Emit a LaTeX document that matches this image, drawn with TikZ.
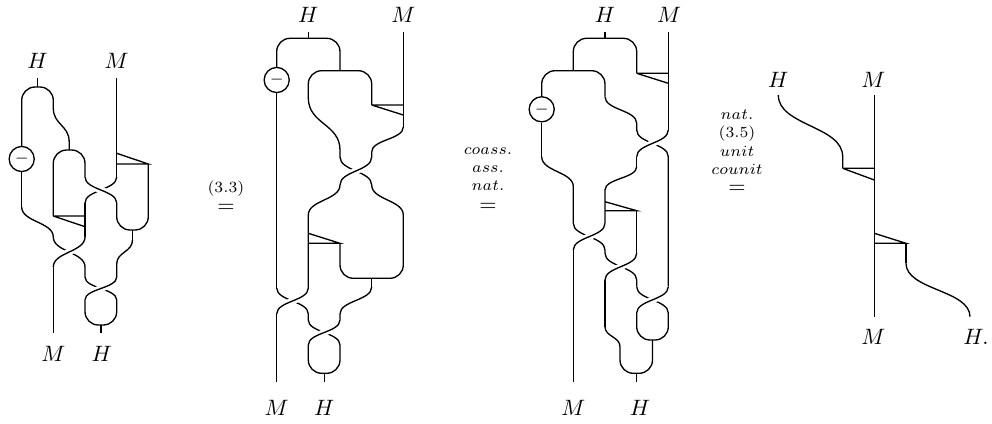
\documentclass[tikz,border=0pt]{standalone}
\newcommand\Scurve[4]{(#1,#2) .. controls (#1,{(#2+#4)/2}) and (#3,{(#2+#4)/2}) .. (#3,#4)}
\begin{document}
\begin{tikzpicture}[x=0.45pt,y=-0.45pt, line width=0.6pt,
  st/.style={rounded corners=6pt},
  over/.style={preaction={draw,white,line width=3pt}},
  antip/.style={draw,circle,minimum size=11.3pt,inner sep=0pt,line width=0.6pt,font=\scriptsize},
  lab/.style={inner sep=0pt},
  sm/.style={inner sep=0pt,font=\scriptsize,text height=4.5pt,text depth=1pt}]
\useasboundingbox (0,0) rectangle (992,423);

% ---------------- Diagram 1 ----------------
\node[lab] (d1H) at (37.5,61) {$H$};
\node[lab] (d1M) at (116.7,61) {$M$};
\node[lab] (d1Mb) at (53.3,354) {$M$};
\node[lab] (d1Hb) at (101.7,354) {$H$};
\node[antip] (d1S) at (21.7,159) {$-$};
\draw (37.5,78) -- (37.5,87);
\draw[st] (d1S.north) -- (21.7,87) -- (53.3,87) -- (53.3,108);
\draw \Scurve{53.3}{108}{69.2}{142} -- (69.2,150);
\draw[st] (53.3,216) -- (53.3,150) -- (85,150) -- (85,177);
\draw (53.3,216) -- (85,216) (53.3,216) -- (85,226.7);
\draw (116.7,78) -- (116.7,177);
\draw \Scurve{116.7}{177}{85}{203};
\draw (116.7,153.3) -- (148.3,164) -- (116.7,164);
\draw[st] (116.7,203) -- (116.7,230) -- (148.3,230) -- (148.3,164);
\draw (132.5,230) -- (132.5,240);
\draw \Scurve{132.5}{240}{116.7}{264} -- (116.7,277);
\draw (85,203) -- (85,237);
\draw (53.3,267) -- (53.3,333);
\draw (d1S.south) -- (21.7,207);
\draw \Scurve{21.7}{207}{53.3}{237};
\draw \Scurve{53.3}{237}{85}{267} -- (85,277);
\draw \Scurve{85}{277}{116.7}{300};
\draw[st] (85,300) -- (85,325) -- (116.7,325) -- (116.7,300);
\draw (101,325) -- (101,333);
\draw[over] \Scurve{85}{177}{116.7}{203};
\draw[over] \Scurve{116.7}{277}{85}{300};
\draw[over] \Scurve{85}{237}{53.3}{267};

% ---------------- Diagram 2 ----------------
\node[lab] (d2H) at (308.3,15) {$H$};
\node[lab] (d2M) at (403.3,15) {$M$};
\node[lab] (d2Mb) at (276.7,408) {$M$};
\node[lab] (d2Hb) at (324.2,408) {$H$};
\node[antip] (d2S) at (276.7,80) {$-$};
\draw (308.3,31.7) -- (308.3,38.3);
\draw[st] (d2S.north) -- (276.7,38.3) -- (340,38.3) -- (340,70.7);
\draw[st] (308.3,98) -- (308.3,70.7) -- (371.7,70.7) -- (371.7,105);
\draw (371.7,105) -- (403.3,105) (371.7,105) -- (403.3,115);
\draw \Scurve{308.3}{98}{340}{150} -- (340,157);
\draw \Scurve{340}{157}{371.7}{185};
\draw \Scurve{371.7}{185}{403.3}{215};
\draw (403.3,31.7) -- (403.3,127);
\draw \Scurve{403.3}{127}{371.7}{152} -- (371.7,157);
\draw \Scurve{340}{185}{308.3}{215} -- (308.3,288);
\draw (308.3,233.3) -- (340,243.3) -- (308.3,243.3);
\draw[st] (340,243.3) -- (340,278.3) -- (403.3,278.3) -- (403.3,215);
\draw (371.7,278.3) -- (371.7,287);
\draw \Scurve{371.7}{287}{340}{314} -- (340,320);
\draw (d2S.south) -- (276.7,288);
\draw \Scurve{276.7}{288}{308.3}{314} -- (308.3,320);
\draw \Scurve{308.3}{320}{340}{345};
\draw (276.7,314) -- (276.7,381.7);
\draw[st] (308.3,345) -- (308.3,373.3) -- (340,373.3) -- (340,345);
\draw (324.2,373.3) -- (324.2,381.7);
\draw[over] \Scurve{371.7}{157}{340}{185};
\draw[over] \Scurve{340}{320}{308.3}{345};
\draw[over] \Scurve{308.3}{288}{276.7}{314};

% ---------------- Diagram 3 ----------------
\node[lab] (d3H) at (605,15) {$H$};
\node[lab] (d3M) at (669,15) {$M$};
\node[lab] (d3Mb) at (573.3,408) {$M$};
\node[lab] (d3Hb) at (640,408) {$H$};
\node[antip] (d3S) at (541.7,109.3) {$-$};
\draw (605,31.7) -- (605,38.3);
\draw[st] (573.3,70.7) -- (573.3,38.3) -- (636.7,38.3) -- (636.7,73.3);
\draw (636.7,73.3) -- (668.3,73.3) (636.7,73.3) -- (668.3,83.3);
\draw[st] (d3S.north) -- (541.7,70.7) -- (605,70.7) -- (605,96.7);
\draw (d3S.south) -- (541.7,156.7);
\draw \Scurve{541.7}{156.7}{573.3}{186.7} -- (573.3,223.3);
\draw \Scurve{605}{96.7}{636.7}{123.3} -- (636.7,130);
\draw \Scurve{636.7}{130}{668.3}{156.7} -- (668.3,286.7);
\draw (668.3,31.7) -- (668.3,130);
\draw (636.7,156.7) -- (636.7,166.7);
\draw \Scurve{636.7}{166.7}{605}{190} -- (605,223.3);
\draw (605,201.7) -- (636.7,210.7) -- (605,210.7);
\draw (636.7,210.7) -- (636.7,253.3);
\draw \Scurve{573.3}{223.3}{605}{250} -- (605,253.3);
\draw (573.3,250) -- (573.3,381.7);
\draw \Scurve{605}{253.3}{636.7}{280} -- (636.7,286.7);
\draw (605,280) -- (605,326.7);
\draw \Scurve{605}{326.7}{620}{346.7};
\draw \Scurve{636.7}{286.7}{668.3}{313};
\draw[st] (636.7,313) -- (636.7,340) -- (668.3,340) -- (668.3,313);
\draw[st] (620,346.7) -- (620,373.3) -- (652.5,373.3) -- (652.5,340);
\draw (636.3,373.3) -- (636.3,381.7);
\draw[over] \Scurve{668.3}{130}{636.7}{156.7};
\draw[over] \Scurve{605}{223.3}{573.3}{250};
\draw[over] \Scurve{636.7}{253.3}{605}{280};
\draw[over] \Scurve{668.3}{286.7}{636.7}{313};

% ---------------- Diagram 4 ----------------
\node[lab] (d4H) at (778.3,80) {$H$};
\node[lab] (d4M) at (873.3,80) {$M$};
\node[lab] (d4Mb) at (873.3,337) {$M$};
\node[lab] (d4Hb) at (976,337) {$H.$};
\draw (874.3,95) -- (874.3,316.7);
\draw \Scurve{778.3}{95}{842.7}{156.7} -- (842.7,168.3);
\draw (842.7,168.3) -- (874.3,168.3) (842.7,168.3) -- (874.3,180);
\draw (874.3,233.3) -- (906,243.3) -- (874.3,243.3);
\draw (906,243.3) -- (906,263.3);
\draw \Scurve{906}{263.3}{970}{316.7};

% ---------------- equation labels ----------------
\node[sm] (l1a) at (226,189) {$(3.3)$};
\node[lab] (l1b) at (226,208) {$=$};
\node[sm] (l2a) at (488,151) {$coass.$};
\node[sm] (l2b) at (488,169) {$ass.$};
\node[sm] (l2c) at (488,187) {$nat.$};
\node[lab] (l2d) at (488,207) {$=$};
\node[sm] (l3a) at (737,116) {$nat.$};
\node[sm] (l3b) at (737,134) {$(3.5)$};
\node[sm] (l3c) at (737,153) {$unit$};
\node[sm] (l3d) at (737,171) {$counit$};
\node[lab] (l3e) at (737,189) {$=$};
\end{tikzpicture}
\end{document}
